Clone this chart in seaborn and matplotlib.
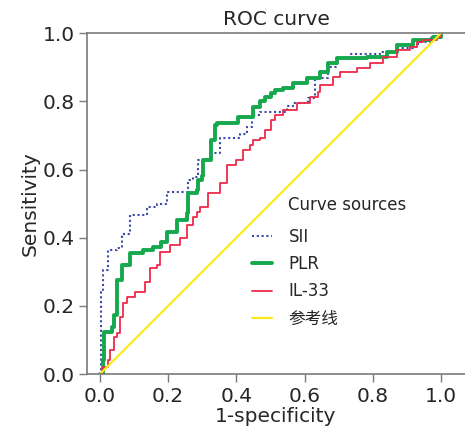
import numpy as np
import pandas as pd
import matplotlib
matplotlib.use('Agg')
import matplotlib.pyplot as plt
import seaborn as sns

# ROC points (1-specificity, sensitivity)
sii_x = [0.0, 0.003, 0.003, 0.01, 0.024, 0.05, 0.065, 0.088, 0.138, 0.167, 0.196, 0.258,
         0.273, 0.288, 0.323, 0.352, 0.41, 0.43, 0.446, 0.469, 0.548, 0.566, 0.61, 0.63,
         0.63, 0.669, 0.695, 0.733, 0.82, 0.87, 0.918, 0.933, 0.968, 1.0]
sii_y = [0.0, 0.005, 0.24, 0.305, 0.364, 0.37, 0.41, 0.466, 0.49, 0.50, 0.534, 0.569,
         0.578, 0.628, 0.648, 0.692, 0.704, 0.724, 0.76, 0.768, 0.786, 0.795, 0.81, 0.824,
         0.868, 0.90, 0.927, 0.94, 0.944, 0.956, 0.959, 0.974, 0.985, 1.0]

plr_x = [0.0, 0.01, 0.012, 0.035, 0.04, 0.05, 0.064, 0.088, 0.126, 0.155, 0.18, 0.196,
         0.226, 0.255, 0.258, 0.284, 0.287, 0.30, 0.303, 0.327, 0.337, 0.343, 0.405, 0.446,
         0.45, 0.47, 0.484, 0.5, 0.513, 0.537, 0.566, 0.607, 0.645, 0.669, 0.695, 0.783,
         0.842, 0.87, 0.918, 0.977, 1.0]
plr_y = [0.0, 0.04, 0.123, 0.138, 0.173, 0.276, 0.32, 0.355, 0.364, 0.372, 0.387, 0.416,
         0.452, 0.472, 0.53, 0.54, 0.569, 0.58, 0.628, 0.686, 0.73, 0.736, 0.754, 0.754,
         0.783, 0.80, 0.812, 0.824, 0.833, 0.839, 0.853, 0.868, 0.886, 0.912, 0.927, 0.93,
         0.944, 0.965, 0.98, 0.988, 1.0]

il33_x = [0.0, 0.01, 0.024, 0.03, 0.04, 0.05, 0.059, 0.068, 0.079, 0.103, 0.132, 0.147,
          0.167, 0.176, 0.205, 0.235, 0.255, 0.273, 0.284, 0.293, 0.317, 0.352, 0.372,
          0.40, 0.42, 0.44, 0.45, 0.469, 0.484, 0.5, 0.513, 0.537, 0.578, 0.616, 0.639,
          0.645, 0.683, 0.704, 0.754, 0.792, 0.83, 0.87, 0.909, 0.93, 0.947, 0.988, 1.0]
il33_y = [0.0, 0.02, 0.04, 0.07, 0.108, 0.12, 0.167, 0.208, 0.226, 0.24, 0.27, 0.31,
          0.32, 0.358, 0.378, 0.398, 0.437, 0.46, 0.475, 0.49, 0.53, 0.56, 0.613,
          0.628, 0.657, 0.672, 0.686, 0.692, 0.716, 0.745, 0.76, 0.774, 0.795, 0.812, 0.827,
          0.847, 0.871, 0.886, 0.897, 0.912, 0.93, 0.95, 0.959, 0.974, 0.98, 0.988, 1.0]

ref_x = [0.0, 1.0]
ref_y = [0.0, 1.0]

ticks = [0.0, 0.2, 0.4, 0.6, 0.8, 1.0]

sns.set_style('white')
plt.rcParams['font.family'] = ['DejaVu Sans', 'Noto Sans CJK SC']

fig = plt.figure(figsize=(4.65, 4.3), dpi=100)
ax = fig.add_axes([0.187, 0.130, 0.813, 0.793])

sns.lineplot(x=sii_x, y=sii_y, ax=ax, color='#3a48a8', linestyle=(0, (1, 1.3)), lw=1.5,
             drawstyle='steps-post', estimator=None, sort=False, label='SII')
sns.lineplot(x=plr_x, y=plr_y, ax=ax, color='#16a84c', lw=2.8,
             drawstyle='steps-post', estimator=None, sort=False, label='PLR')
sns.lineplot(x=il33_x, y=il33_y, ax=ax, color='#ee2a48', lw=1.3,
             drawstyle='steps-post', estimator=None, sort=False, label='IL-33')
sns.lineplot(x=ref_x, y=ref_y, ax=ax, color='#ffe81a', lw=1.6,
             estimator=None, sort=False, label='参考线')

ax.set_xlim(-0.038, 1.07)
ax.set_ylim(0, 1)
ax.set_xticks(ticks)
ax.set_yticks(ticks)
ax.set_xticklabels([f'{t:.1f}' for t in ticks])
ax.set_yticklabels([f'{t:.1f}' for t in ticks])
ax.tick_params(axis='both', direction='out', length=6, width=1, color='#7a7a7a',
               labelsize=14.5, pad=3, left=True, bottom=True)
for side in ['left', 'bottom', 'top']:
    ax.spines[side].set_color('#7a7a7a')
    ax.spines[side].set_linewidth(1.2)
ax.spines['right'].set_visible(False)

ax.set_title('ROC curve', fontsize=14.5, pad=6)
ax.set_xlabel('1-specificity', fontsize=14.5, labelpad=1)
ax.set_ylabel('Sensitivity', fontsize=14.5, labelpad=2)

fig.text(288 / 465, 1 - 205 / 430, 'Curve sources', fontsize=12, va='center', ha='left')
ax.legend(loc='upper left', bbox_to_anchor=(252 / 465, 1 - 228 / 430),
          bbox_transform=fig.transFigure, frameon=False, fontsize=12,
          handlelength=1.2, handletextpad=1.0, labelspacing=0.55, borderaxespad=0,
          borderpad=0)

fig.savefig('out.png', dpi=100)
